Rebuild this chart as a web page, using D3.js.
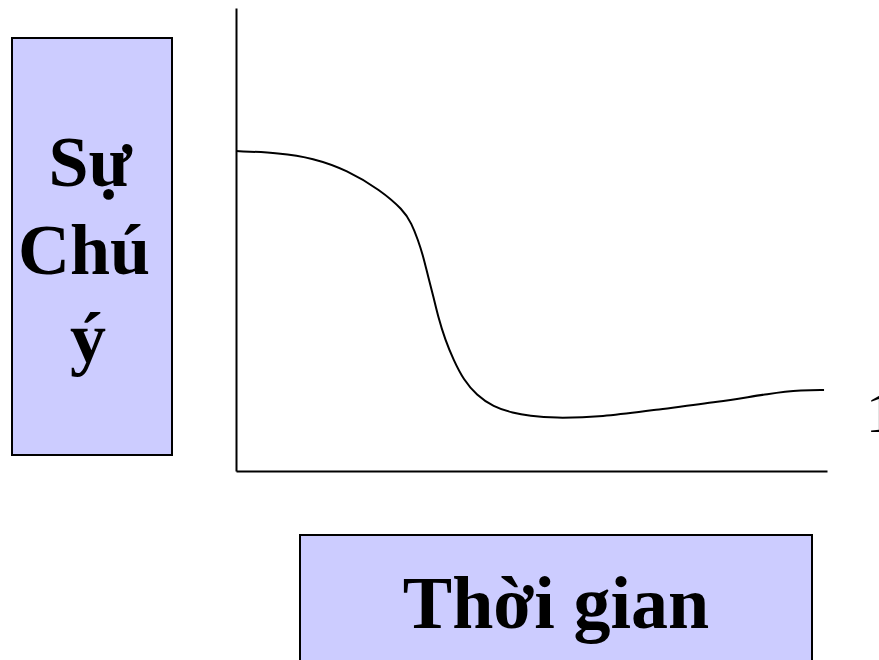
<!DOCTYPE html>
<html>
<head>
<meta charset="utf-8">
<script src="https://cdn.jsdelivr.net/npm/d3@7"></script>
<style>
    body { margin: 0; background: #fff; }
    svg { display: block; }
</style>
</head>
<body>
<div id="canva"></div>
<script>
// time (0-100) vs attention (0-100)
const times = [0, 7.4, 13.0, 18.8, 24.4, 28.3, 29.7, 30.8, 31.7, 32.5, 33.4, 34.2, 35.4, 36.8, 38.5, 40.7, 43.5, 46.9, 49.7, 53.6, 62.1, 70.6, 81.9, 90.4, 95.9, 99.5];
const attention = [69.1, 68.7, 67.6, 65.0, 60.7, 56.4, 53.5, 49.9, 46.3, 42.0, 37.7, 33.3, 28.3, 24.0, 19.7, 16.4, 13.9, 12.5, 11.9, 11.4, 11.7, 13.2, 14.9, 16.8, 17.5, 17.5];
const yLabelLines = ["Sự", "Chú", "ý"];
const xLabel = "Thời gian";
const endLabel = "1";

const width = 879;
const height = 660;
const margin = { top: 8, right: 52, bottom: 189, left: 236 };

const svg = d3.select("#canva").append("svg")
    .attr("width", width)
    .attr("height", height);

const x = d3.scaleLinear()
    .domain([0, 100])
    .range([margin.left, width - margin.right]);

const y = d3.scaleLinear()
    .domain([0, 100])
    .range([height - margin.bottom, margin.top]);

const font = "'Liberation Serif', 'Times New Roman', serif";

// axes: plain lines, no ticks
svg.append("g")
    .attr("transform", `translate(${margin.left}, 0)`)
    .call(d3.axisLeft(y).tickValues([]).tickSizeOuter(0))
    .select(".domain")
        .attr("stroke", "#000")
        .attr("stroke-width", 2);

svg.append("g")
    .attr("transform", `translate(0, ${height - margin.bottom})`)
    .call(d3.axisBottom(x).tickValues([]).tickSizeOuter(0))
    .select(".domain")
        .attr("stroke", "#000")
        .attr("stroke-width", 2);

const points = times.map((t, i) => [t, attention[i]]);

const line = d3.line()
    .x(d => x(d[0]))
    .y(d => y(d[1]))
    .curve(d3.curveBasis);

svg.append("path")
    .datum(points)
    .attr("fill", "none")
    .attr("stroke", "#000")
    .attr("stroke-width", 2)
    .attr("d", line);

// the "1" sits half off the right edge, as in the original slide
svg.append("text")
    .attr("x", 866)
    .attr("y", 432)
    .style("font-family", font)
    .style("font-size", "58px")
    .text(endLabel);

// y label box
svg.append("rect")
    .attr("x", 12)
    .attr("y", 38)
    .attr("width", 160)
    .attr("height", 417)
    .attr("fill", "#ccccff")
    .attr("stroke", "#000")
    .attr("stroke-width", 2);

const lineX = [90, 84, 88];
svg.append("g")
    .selectAll("text")
    .data(yLabelLines)
    .join("text")
        .attr("x", (d, i) => lineX[i])
        .attr("y", (d, i) => 186 + i * 88)
        .attr("text-anchor", "middle")
        .style("font-family", font)
        .style("font-weight", "bold")
        .style("font-size", "72px")
        .text(d => d);

// x label box
svg.append("rect")
    .attr("x", 300)
    .attr("y", 535)
    .attr("width", 512)
    .attr("height", 140)
    .attr("fill", "#ccccff")
    .attr("stroke", "#000")
    .attr("stroke-width", 2);

svg.append("text")
    .attr("x", 556)
    .attr("y", 628)
    .attr("text-anchor", "middle")
    .style("font-family", font)
    .style("font-weight", "bold")
    .style("font-size", "74px")
    .text(xLabel);
</script>
</body>
</html>
